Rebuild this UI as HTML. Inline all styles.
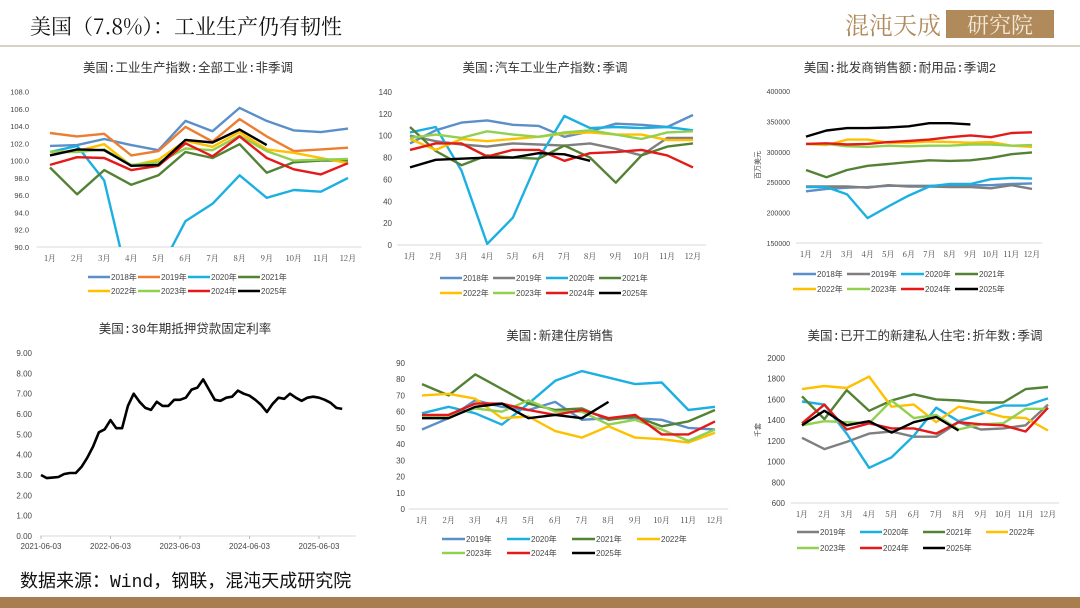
<!DOCTYPE html>
<html><head><meta charset="utf-8">
<style>
body{margin:0;background:#fff;}
#page{position:relative;width:1080px;height:608px;overflow:hidden;background:#fff;font-family:"Liberation Sans","Noto Sans CJK SC",sans-serif;}
svg{position:absolute;left:0;top:0;}
</style></head>
<body>
<div id="page">
<svg id="s" width="1080" height="608">
  <text x="30" y="34" font-size="21" fill="#111" font-family="'Noto Serif CJK SC','Noto Sans CJK SC',sans-serif">美国（7.8%）：工业生产仍有韧性</text>
  <text x="845" y="34" font-size="24" fill="#b08a5a" font-family="'Noto Serif CJK SC',serif">混沌天成</text>
  <rect x="946" y="10" width="108" height="28" fill="#b08a5a"/>
  <text x="1000" y="33" font-size="22" fill="#f3e9da" text-anchor="middle" font-family="'Noto Serif CJK SC',serif">研究院</text>
  <rect x="0" y="45" width="1080" height="2" fill="#d8d2c6"/>
  <text x="20" y="587" font-size="18" fill="#111" font-family="'Liberation Mono','Noto Sans CJK SC',monospace">数据来源：Wind，钢联，混沌天成研究院</text>
  <rect x="0" y="597" width="1080" height="11" fill="#a97e4f"/>
</svg>
</div>
<script>
const months=['1月','2月','3月','4月','5月','6月','7月','8月','9月','10月','11月','12月'];
const colorMap={'2018年':'#5b8fc9','2019年':'#ed7d31','2020年':'#1cb0e2','2021年':'#548235','2022年':'#ffc000','2023年':'#92d050','2024年':'#e41a1a','2025年':'#000000'};
// chart 1: industrial production NSA
const c1Years=['2018年','2019年','2020年','2021年','2022年','2023年','2024年','2025年'];
const c1Values=[
[101.7,101.8,102.5,101.8,101.2,104.6,103.4,106.1,104.6,103.5,103.3,103.7],
[103.2,102.8,103.1,100.6,101.1,103.9,102.2,104.8,102.8,101.1,101.3,101.5],
[101.0,101.7,97.7,84.5,87.0,93.0,95.0,98.3,95.7,96.6,96.4,98.0],
[99.2,96.1,98.9,97.2,98.3,101.0,100.3,101.9,98.6,99.8,100.0,100.0],
[101.0,101.1,101.9,99.4,100.1,102.3,101.6,103.3,101.3,100.9,100.3,99.7],
[101.0,101.0,101.3,99.5,99.8,101.4,101.2,102.9,101.1,100.0,100.1,100.2],
[99.5,100.4,100.3,98.9,99.4,102.0,100.5,102.8,100.3,99.0,98.4,99.7],
[100.6,101.3,101.2,99.4,99.5,102.4,102.1,103.6,101.8]];
const c1Ticks=['90.0','92.0','94.0','96.0','98.0','100.0','102.0','104.0','106.0','108.0'];
// chart 2: auto production SA
const c2Years=['2018年','2019年','2020年','2021年','2022年','2023年','2024年','2025年'];
const c2Values=[
[93,105,112,114,110,109,99,104,111,110,108,119],
[100,95,92,90,93,92,91,93,88,82,98,98],
[103,108,68,1,25,79,118,107,108,107,108,105],
[108,86,73,82,80,79,91,80,57,82,90,93],
[97,87,97,95,97,99,102,103,101,101,96,96],
[98,101,98,104,101,99,103,105,101,97,103,104],
[87,93,93,81,87,87,77,84,85,87,82,71],
[71,78,79,80,80,84,83,77]];
const c2Ticks=['0','20','40','60','80','100','120','140'];
// chart 3: wholesale durable sales
const c3Years=['2018年','2019年','2020年','2021年','2022年','2023年','2024年','2025年'];
const c3Values=[
[235000,239000,241000,242000,244000,244000,244000,245000,245000,245000,247000,248000],
[243000,243000,243000,241000,245000,243000,243000,242000,242000,240000,245000,239000],
[242000,242000,230000,191000,210000,228000,243000,247000,247000,255000,257000,256000],
[270000,258000,270000,277000,280000,283000,286000,285000,286000,290000,296000,299000],
[313000,311000,320000,320000,315000,315000,317000,316000,315000,316000,310000,308000],
[313000,313000,309000,308000,310000,309000,310000,310000,312000,312000,310000,311000],
[313000,314000,312000,313000,316000,318000,320000,324000,327000,324000,331000,332000],
[325000,335000,339000,339000,340000,342000,347000,347000,345000]];
const c3Ticks=['150000','200000','250000','300000','350000','400000'];
// chart 4: 30y mortgage rate (monthly, 2021-06 .. 2025-10)
const c4Rates=[3.0,2.85,2.87,2.9,3.05,3.1,3.1,
3.4,3.85,4.4,5.1,5.25,5.7,5.3,5.3,6.4,7.0,6.6,6.3,
6.2,6.6,6.4,6.4,6.7,6.7,6.8,7.2,7.3,7.7,7.2,6.7,
6.65,6.8,6.85,7.15,7.0,6.9,6.7,6.45,6.1,6.5,6.8,6.75,
7.0,6.8,6.65,6.8,6.85,6.8,6.7,6.55,6.3,6.25];
const c4Ticks=['0.00','1.00','2.00','3.00','4.00','5.00','6.00','7.00','8.00','9.00'];
const c4Dates=['2021-06-03','2022-06-03','2023-06-03','2024-06-03','2025-06-03'];
// chart 5: new home sales
const c5Years=['2019年','2020年','2021年','2022年','2023年','2024年','2025年'];
const c5Values=[
[49,56,67,63,61,66,55,56,56,55,50,49],
[59,63,59,52,65,79,85,81,77,78,61,63],
[77,70,83,74,65,61,62,55,57,51,54,61],
[70,71,68,56,57,48,44,51,44,43,41,47],
[57,57,62,60,67,60,60,52,55,49,42,49],
[58,58,65,65,61,58,61,56,58,46,46,54],
[56,56,63,65,56,58,56,66]];
const c5Ticks=['0','10','20','30','40','50','60','70','80','90'];
// chart 6: housing starts
const c6Years=['2019年','2020年','2021年','2022年','2023年','2024年','2025年'];
const c6Values=[
[1230,1120,1190,1270,1290,1240,1240,1380,1310,1320,1350,1550],
[1580,1550,1270,940,1040,1250,1520,1390,1460,1540,1540,1610],
[1630,1410,1690,1490,1590,1650,1600,1590,1570,1570,1700,1720],
[1700,1730,1710,1820,1530,1550,1380,1530,1490,1430,1420,1300],
[1350,1390,1380,1370,1590,1420,1450,1310,1360,1370,1510,1510],
[1370,1550,1310,1370,1320,1320,1270,1380,1360,1350,1290,1520],
[1350,1490,1350,1390,1280,1380,1430,1300]];
const c6Ticks=['600','800','1000','1200','1400','1600','1800','2000'];
const c6ColorMap={'2019年':'#7f7f7f'};
const c2ColorMap={'2019年':'#7f7f7f'};
const c3ColorMap={'2019年':'#7f7f7f'};
const c5ColorMap={'2019年':'#5b8fc9'};

const NS='http://www.w3.org/2000/svg';
const svg=document.getElementById('s');
function mk(tag,attrs,parent){const e=document.createElementNS(NS,tag);for(const k in attrs)e.setAttribute(k,attrs[k]);(parent||svg).appendChild(e);return e;}
let clipId=0;
function monthChart(o){
  const g=mk('g',{});
  
  
  const t=mk('text',{x:o.tx,y:o.ty,'font-size':12.5,fill:'#333','text-anchor':'middle','font-family':"'Liberation Mono','Noto Sans CJK SC',monospace"},g);
  t.textContent=o.title;
  
  
  const ymin=parseFloat(o.ticks[0]),ymax=parseFloat(o.ticks[o.ticks.length-1]);
  const yS=v=>o.yb-(v-ymin)/(ymax-ymin)*(o.yb-o.yt);
  const step=(o.x12-o.x1)/11;
  const xS=i=>o.x1+i*step;
  mk('line',{x1:o.x1-step/2,x2:o.x12+step/2,y1:o.yb,y2:o.yb,stroke:'#d9d9d9','stroke-width':1},g);
  o.ticks.forEach(tk=>{const tt=mk('text',{x:o.ylx,y:yS(parseFloat(tk))+3,'font-size':o.yfs||8,fill:'#444','text-anchor':'end'},g);tt.textContent=tk;
    });
  months.forEach((m,i)=>{const tt=mk('text',{x:xS(i),y:o.yb+14,'font-size':8,fill:'#444','text-anchor':'middle','font-family':"'Noto Serif CJK SC','Liberation Sans',serif"},g);tt.textContent=m;
    });
  if(o.ytitle){const yt=mk('text',{x:0,y:0,'font-size':7,fill:'#444','text-anchor':'middle',transform:`translate(${o.ytx},${o.yty}) rotate(-90)`},g);yt.textContent=o.ytitle;
    }
  const cid='clip'+(clipId++);
  const cp=mk('clipPath',{id:cid},g);mk('rect',{x:o.x1-step,y:o.yt-5,width:o.x12-o.x1+2*step,height:o.yb-o.yt+5},cp);
  o.years.forEach((y,si)=>{
    const col=(o.cmap&&o.cmap[y])||colorMap[y];
    const pts=o.values[si].map((v,i)=>xS(i).toFixed(1)+','+yS(v).toFixed(1)).join(' ');
    const p=mk('polyline',{points:pts,fill:'none',stroke:col,'stroke-width':2.4,'stroke-linejoin':'round','clip-path':`url(#${cid})`},g);
    
    
    const row=Math.floor(si/4),col4=si%4;
    const lx=o.lx+col4*o.lstep,ly=o.ly[row];
    const lg=mk('g',{},g);
    
    
    mk('line',{x1:lx,x2:lx+o.llen,y1:ly,y2:ly,stroke:col,'stroke-width':2.6},lg);
    const lt=mk('text',{x:lx+o.llen+1,y:ly+3,'font-size':8,fill:'#444'},lg);lt.textContent=y;
  });
}
monthChart({name:'chart-industrial-production',title:'美国:工业生产指数:全部工业:非季调',tx:188,ty:72,ticks:c1Ticks,yt:91.5,yb:247,x1:50,x12:348,ylx:29,years:c1Years,values:c1Values,lx:88,lstep:50,llen:22,ly:[277,291],yfs:7.5});
monthChart({name:'chart-auto-production',title:'美国:汽车工业生产指数:季调',tx:545,ty:72,ticks:c2Ticks,yt:92,yb:245,x1:410,x12:693,ylx:392,years:c2Years,values:c2Values,cmap:c2ColorMap,lx:440,lstep:53,llen:22,ly:[278,293]});
monthChart({name:'chart-wholesale-durables',title:'美国:批发商销售额:耐用品:季调2',tx:900,ty:72,ticks:c3Ticks,yt:91,yb:243,x1:806,x12:1032,ylx:790,years:c3Years,values:c3Values,cmap:c3ColorMap,lx:793,lstep:54,llen:23,ly:[274,289],yfs:7,ytitle:'百万美元',ytx:760,yty:165});
monthChart({name:'chart-new-home-sales',title:'美国:新建住房销售',tx:560,ty:340,ticks:c5Ticks,yt:363,yb:509,x1:422,x12:715,ylx:405,years:c5Years,values:c5Values,cmap:c5ColorMap,lx:442,lstep:65,llen:23,ly:[539,553]});
monthChart({name:'chart-housing-starts',title:'美国:已开工的新建私人住宅:折年数:季调',tx:925,ty:340,ticks:c6Ticks,yt:358,yb:503,x1:802,x12:1048,ylx:785,years:c6Years,values:c6Values,cmap:c6ColorMap,lx:797,lstep:63,llen:22,ly:[532,548],ytitle:'千套',ytx:760,yty:430});

// chart 4
(function(){
  const g=mk('g',{});
  
  
  const t=mk('text',{x:185,y:333,'font-size':12.5,fill:'#333','text-anchor':'middle','font-family':"'Liberation Mono','Noto Sans CJK SC',monospace"},g);
  t.textContent='美国:30年期抵押贷款固定利率';
  const yt=353,yb=536,x0=41,perMonth=(319-41)/48;
  const yS=v=>yb-v/9*(yb-yt);
  const xS=i=>x0+i*perMonth;
  mk('line',{x1:40,x2:356,y1:yb,y2:yb,stroke:'#d9d9d9','stroke-width':1},g);
  c4Ticks.forEach(tk=>{const tt=mk('text',{x:32,y:yS(parseFloat(tk))+3,'font-size':8,fill:'#444','text-anchor':'end'},g);tt.textContent=tk;
    });
  c4Dates.forEach((d,i)=>{const x=xS(i*12);mk('line',{x1:x,x2:x,y1:yb,y2:yb+3,stroke:'#bbb'},g);
    const tt=mk('text',{x:x,y:yb+13,'font-size':8,fill:'#444','text-anchor':'middle'},g);tt.textContent=d;
    });
  const pts=c4Rates.map((v,i)=>xS(i).toFixed(1)+','+yS(v).toFixed(1)).join(' ');
  const p=mk('polyline',{points:pts,fill:'none',stroke:'#000','stroke-width':2.6,'stroke-linejoin':'round'},g);
  
  
})();
</script>
</body></html>
